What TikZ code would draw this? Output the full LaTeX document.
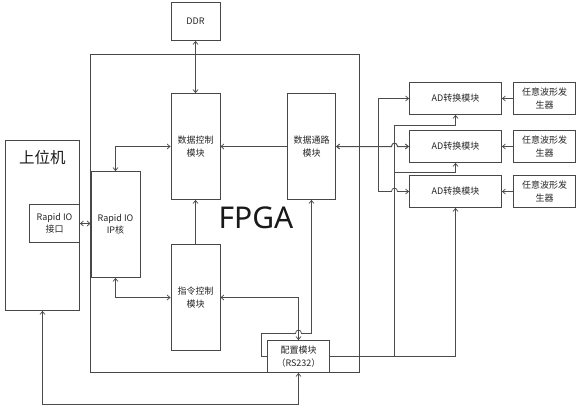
\documentclass[tikz,border=0pt]{standalone}
\usepackage{fontspec}
\setmainfont{Noto Sans CJK SC}
\newfontfamily\latinsans{Noto Sans}
\usetikzlibrary{arrows.meta,calc}
\begin{document}
\begin{tikzpicture}[x=1pt,y=-1pt,
  box/.style={draw=black!72, line width=0.8pt, inner sep=0pt, align=center, fill=white,
    font=\fontsize{9}{12.5}\selectfont, text=black!85},
  wire/.style={draw=black!70, line width=0.75pt},
  tip/.style={-{Straight Barb[length=3pt,width=5pt]}},
  tips/.style={{Straight Barb[length=3pt,width=5pt]}-{Straight Barb[length=3pt,width=5pt]}},
]
\useasboundingbox (0,0) rectangle (582,407);

% FPGA frame
\node[box, fill=none, minimum width=269pt, minimum height=318pt] (fpga) at (225,213.5) {};
\node[font=\latinsans\fontsize{30}{32}\selectfont, text=black!90, inner sep=0pt] (fpgalbl) at (256,218) {FPGA};

% boxes
\node[box, minimum width=49pt, minimum height=38pt] (ddr) at (195.5,21.5) {DDR};
\node[box, minimum width=49pt, minimum height=106pt] (dc) at (195.5,146.5) {数据控制\\模块};
\node[box, minimum width=48pt, minimum height=106pt] (dp) at (311.5,146.5) {数据通路\\模块};
\node[box, minimum width=74pt, minimum height=170pt] (host) at (42.5,225.5) {};
\node[font=\fontsize{15.5}{18}\selectfont, text=black!90, inner sep=0pt] (hostlbl) at (42.5,158) {上位机};
\node[box, minimum width=50pt, minimum height=38pt] (rif) at (54.5,223.5) {Rapid IO\\接口};
\node[box, minimum width=49pt, minimum height=106pt] (ip) at (115.5,224.5) {Rapid IO\\IP核};
\node[box, minimum width=49pt, minimum height=106pt] (cmd) at (195.5,297.5) {指令控制\\模块};
\node[box, minimum width=62pt, minimum height=32pt] (cfg) at (298.5,356.5) {配置模块\\（RS232）};

\node[box, minimum width=92pt, minimum height=32pt] (ad1) at (455.5,98.5) {AD转换模块};
\node[box, minimum width=92pt, minimum height=32pt] (ad2) at (455.5,146.5) {AD转换模块};
\node[box, minimum width=92pt, minimum height=32pt] (ad3) at (455.5,191.5) {AD转换模块};
\node[box, minimum width=62pt, minimum height=32pt] (g1) at (544.5,98.5) {任意波形发\\生器};
\node[box, minimum width=62pt, minimum height=32pt] (g2) at (544.5,146.5) {任意波形发\\生器};
\node[box, minimum width=62pt, minimum height=32pt] (g3) at (544.5,191.5) {任意波形发\\生器};

% coordinates
\coordinate (hb) at (42.5,404.5);
\coordinate (c1) at (261.5,356.5);
\coordinate (c2) at (261.5,333.5);
\coordinate (c3) at (311.5,333.5);
\coordinate (vA) at (378.5,146.5);
\coordinate (vB) at (394.5,356.5);
\coordinate (vC) at (455.5,356.5);
\coordinate (vD) at (394.5,125.5);
\coordinate (vE) at (394.5,172.5);

% connectors
\draw[wire,tips] (ddr.south) -- (dc.north);
\draw[wire,tip] (dp.west) -- (dc.east);
\draw[wire,tips] (ip.north) |- (dc.west);
\draw[wire,tip] (cmd.north) -- (dc.south);
\draw[wire,tips] (ip.south) |- (cmd.west);
\draw[wire,tips] (rif.east) -- (rif.east -| ip.west);
\draw[wire,tips] (host.south) -- (hb) -| (cfg.south);
\draw[wire,tips] (cmd.east) -| (cfg.north);
\draw[wire,tip] (cfg.west) -- (c1) -- (c2) -- ($(c2 -| cfg.north)+(-3,0)$)
   .. controls ($(c2 -| cfg.north)+(-3,-4.5)$) and ($(c2 -| cfg.north)+(3,-4.5)$) .. ($(c2 -| cfg.north)+(3,0)$)
   -- (c3) -- (dp.south);

% data path to AD modules
\draw[wire,tips,line width=1pt] (dp.east) -- ($(vB |- ad2.west)+(-3,0)$)
   .. controls ($(vB |- ad2.west)+(-3,-4.5)$) and ($(vB |- ad2.west)+(3,-4.5)$) .. ($(vB |- ad2.west)+(3,0)$)
   -- (ad2.west);
\draw[wire,tip] (vA) |- (ad1.west);
\draw[wire,tip] (vA) |- ($(vB |- ad3.west)+(-3,0)$)
   .. controls ($(vB |- ad3.west)+(-3,-4.5)$) and ($(vB |- ad3.west)+(3,-4.5)$) .. ($(vB |- ad3.west)+(3,0)$)
   -- (ad3.west);

% config to AD modules
\draw[wire,tip] (cfg.east) -- (vC) -- (ad3.south);
\draw[wire,tip] (vB) -- (vD) -| (ad1.south);
\draw[wire,tip] (vE) -| (ad2.south);

% generators
\draw[wire,tip] (g1.west) -- (ad1.east);
\draw[wire,tip] (g2.west) -- (ad2.east);
\draw[wire,tip] (g3.west) -- (ad3.east);
\end{tikzpicture}
\end{document}
